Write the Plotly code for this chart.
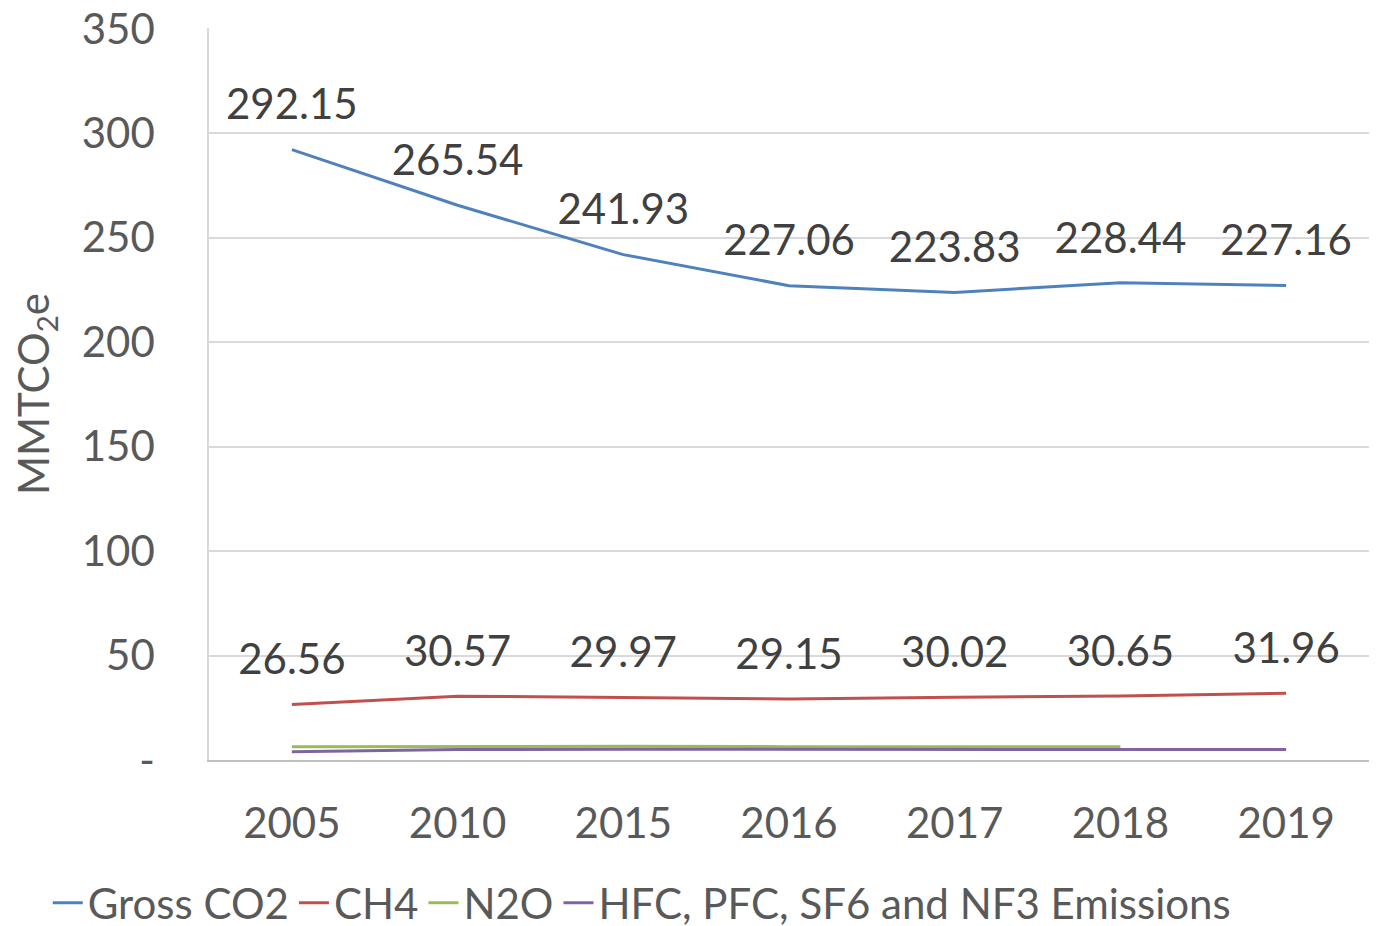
import plotly.graph_objects as go

years = ["2005", "2010", "2015", "2016", "2017", "2018", "2019"]
gross_co2 = [292.15, 265.54, 241.93, 227.06, 223.83, 228.44, 227.16]
ch4 = [26.56, 30.57, 29.97, 29.15, 30.02, 30.65, 31.96]
n2o = [6.3, 6.5, 6.6, 6.4, 6.3, 6.3, None]
hfc = [3.9, 5.0, 5.2, 5.1, 5.0, 5.0, 5.0]

font_family = "Lato, Open Sans, sans-serif"
text_color = "#595959"
FS = 42

fig = go.Figure()
for name, vals, color in [("Gross CO2", gross_co2, "#4F81BD"), ("CH4", ch4, "#C0504D")]:
    fig.add_trace(go.Scatter(x=years, y=vals, name=name, mode="lines+markers+text",
                             line=dict(color=color, width=3),
                             marker=dict(size=30, color="rgba(0,0,0,0)"),
                             text=[f"{v:.2f}" for v in vals], textposition="top center",
                             textfont=dict(size=FS, color="#404040", family=font_family)))
fig.add_trace(go.Scatter(x=years, y=n2o, name="N2O", mode="lines",
                         line=dict(color="#9BBB59", width=3)))
fig.add_trace(go.Scatter(x=years, y=hfc, name="HFC, PFC, SF6 and NF3 Emissions", mode="lines",
                         line=dict(color="#8064A2", width=3)))

fig.update_layout(
    width=1387, height=926,
    margin=dict(l=201, r=26, t=20, b=174, autoexpand=False),
    paper_bgcolor="white", plot_bgcolor="white",
    font=dict(family=font_family, size=FS, color=text_color),
    showlegend=True,
    legend=dict(orientation="h", x=-0.139, xanchor="left", y=-0.1954, yanchor="middle",
                font=dict(size=FS, color=text_color), tracegroupgap=0),
    xaxis=dict(type="category", range=[-0.5, 6.5], showgrid=False, showline=True,
               linecolor="#BFBFBF", linewidth=2,
               ticks="", tickfont=dict(size=FS, color=text_color), ticklabelstandoff=26,
               automargin=False),
    yaxis=dict(range=[0, 350.4], tickvals=[0, 50, 100, 150, 200, 250, 300, 350],
               ticktext=["-", "50", "100", "150", "200", "250", "300", "350"],
               showgrid=True, gridcolor="#D9D9D9", gridwidth=1.5,
               showline=True, linecolor="#D9D9D9", linewidth=1.5, zeroline=False,
               tickfont=dict(size=FS, color=text_color), ticklabelstandoff=44,
               ticklabeloverflow="allow", automargin=False,
               title=dict(text="MMTCO<sub>2</sub>e", font=dict(size=FS, color=text_color), standoff=22)),
)

fig.write_html("out.html")
